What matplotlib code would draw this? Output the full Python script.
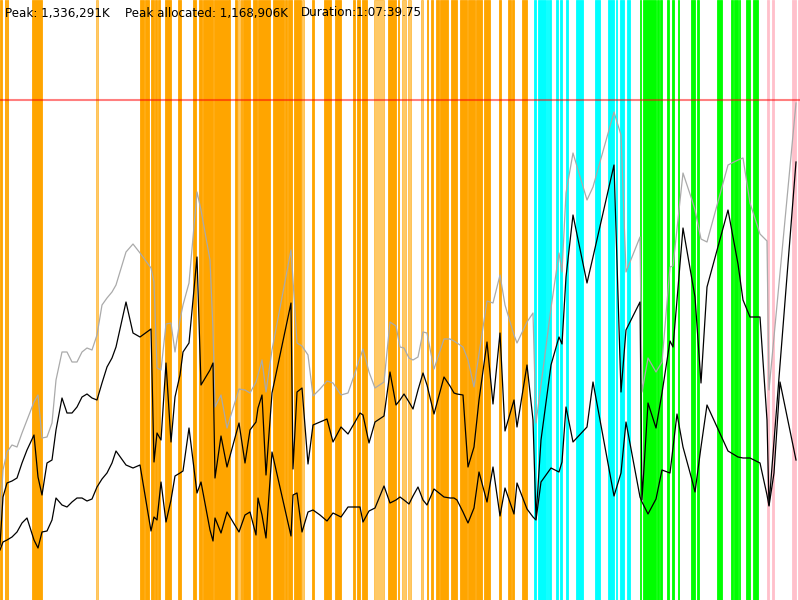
import matplotlib
matplotlib.use('Agg')
import matplotlib.pyplot as plt

# run summary
peak_k = 1336291
peak_alloc_k = 1168906
duration = '1:07:39.75'
heap_limit_mb = 1000

# sample times (s) and memory (MB)
t = [0, 15, 35, 60, 85, 110, 135, 170, 190, 210, 235, 260, 280, 310, 335, 360, 385, 410, 435, 460,
     485, 510, 535, 560, 580, 630, 665, 700, 755, 770, 785, 805, 830, 855, 875, 900, 915, 945, 985, 1005,
     1050, 1065, 1075, 1105, 1135, 1195, 1225, 1250, 1280, 1290, 1310, 1330, 1360, 1455, 1465, 1485, 1510, 1540, 1565, 1600,
     1635, 1665, 1705, 1740, 1775, 1800, 1815, 1845, 1875, 1920, 1950, 1980, 2000, 2020, 2045, 2065, 2090, 2115, 2135, 2170,
     2220, 2250, 2270, 2285, 2315, 2340, 2370, 2395, 2435, 2465, 2500, 2525, 2570, 2585, 2635, 2665, 2680, 2705, 2755, 2795,
     2810, 2830, 2865, 2935, 2965, 3070, 3105, 3130, 3200, 3210, 3240, 3280, 3310, 3350, 3365, 3385, 3415, 3460, 3475, 3505,
     3535, 3640, 3690, 3715, 3750, 3800, 3835, 3845, 3870, 3900, 3980]
heap_size = [160, 260, 296, 310, 306, 334, 360, 396, 410, 324, 326, 354, 440, 496, 496, 476, 476, 496, 504, 500,
             530, 590, 604, 616, 630, 696, 712, 694, 664, 636, 464, 460, 552, 554, 496, 560, 590, 634, 816, 780,
             680, 540, 386, 410, 344, 422, 420, 414, 436, 450, 480, 416, 500, 700, 640, 514, 508, 490, 408, 422,
             438, 434, 410, 414, 454, 484, 502, 456, 424, 436, 556, 548, 506, 504, 484, 480, 486, 536, 534, 462,
             522, 522, 518, 514, 506, 480, 426, 492, 598, 594, 650, 590, 530, 514, 556, 574, 354, 430, 584, 694,
             656, 814, 894, 800, 826, 976, 930, 656, 726, 416, 484, 456, 476, 666, 668, 742, 854, 800, 780, 722,
             716, 870, 880, 884, 794, 732, 718, 420, 526, 654, 994]
used_before = [110, 206, 234, 238, 244, 274, 300, 330, 246, 210, 274, 280, 340, 404, 374, 374, 386, 406, 412, 404,
               400, 434, 466, 484, 506, 596, 534, 526, 542, 276, 334, 320, 474, 316, 406, 450, 496, 514, 686, 430,
               460, 474, 244, 328, 266, 354, 274, 340, 356, 384, 410, 250, 414, 594, 262, 416, 424, 272, 350, 356,
               362, 316, 346, 332, 356, 374, 370, 314, 356, 368, 456, 390, 400, 412, 396, 382, 420, 454, 430, 372,
               446, 428, 414, 412, 410, 266, 306, 400, 516, 392, 534, 338, 400, 346, 470, 360, 164, 320, 470, 526,
               512, 646, 770, 634, 686, 870, 416, 540, 596, 200, 394, 344, 414, 518, 506, 600, 744, 640, 606, 434,
               626, 780, 672, 600, 566, 566, 360, 190, 316, 470, 876]
used_after = [100, 116, 120, 126, 136, 154, 164, 120, 104, 136, 138, 160, 204, 190, 186, 196, 204, 204, 198, 202,
              226, 242, 254, 274, 298, 270, 264, 270, 138, 166, 160, 236, 156, 200, 248, 254, 258, 344, 214, 236,
              140, 118, 164, 134, 176, 136, 170, 176, 130, 204, 170, 124, 296, 128, 210, 214, 136, 176, 180, 170,
              158, 174, 166, 186, 186, 186, 156, 178, 184, 228, 194, 200, 206, 200, 192, 208, 226, 200, 190, 222,
              206, 204, 204, 200, 176, 154, 184, 256, 196, 266, 168, 224, 172, 234, 182, 166, 160, 236, 264, 256,
              276, 386, 316, 346, 436, 208, 254, 356, 206, 196, 172, 202, 260, 254, 304, 372, 306, 240, 216, 306,
              390, 298, 286, 284, 284, 274, 210, 188, 254, 436, 280]

# collections: (start s, length s)
young_gc = [(0, 10), (25, 5), (35, 5), (160, 50), (700, 20), (725, 20), (755, 15), (775, 10), (788, 12), (825, 30),
            (890, 15), (965, 15), (995, 15), (1015, 50), (1070, 75), (1145, 5), (1175, 10), (1205, 5), (1215, 35),
            (1265, 20), (1290, 60), (1365, 55), (1425, 10), (1440, 20), (1470, 35), (1560, 10), (1620, 35), (1675, 30),
            (1765, 10), (1785, 15), (1810, 25), (1940, 40), (1990, 5), (2135, 5), (2155, 10), (2180, 15), (2200, 40),
            (2255, 30), (2300, 35), (2340, 35), (2380, 30), (2420, 30), (2495, 10), (2540, 15), (2560, 10), (2610, 25)]
young_gc_short = [(480, 10), (1190, 10), (1510, 10), (1870, 50), (2010, 20), (2040, 15), (2105, 10)]
mixed_gc = [(2670, 10), (2690, 40), (2735, 5), (2745, 10), (2780, 10), (2800, 10), (2830, 10), (2880, 35),
            (2975, 25), (3040, 30), (3080, 5), (3100, 20), (3135, 15)]
remark = [(3200, 5), (3215, 65), (3283, 12), (3300, 10), (3335, 10), (3360, 10), (3390, 5), (3455, 20), (3485, 10),
          (3585, 25), (3655, 10), (3670, 20), (3695, 5), (3730, 20), (3765, 25)]
full_gc = [(3835, 10), (3860, 10), (3960, 20), (3990, 10)]

fig = plt.figure(figsize=(8, 6), dpi=100)
ax = fig.add_axes([0, 0, 1, 1])
ax.set_xlim(0, 4000)
ax.set_ylim(0, 1200)
ax.axis('off')

for events, col, a in [(young_gc, '#FFA500', 1), (young_gc_short, '#FFA500', 0.6),
                       (mixed_gc, '#00FFFF', 1), (remark, '#00FF00', 1), (full_gc, '#FFC0CB', 1)]:
    for start, length in events:
        ax.axvspan(start, start + length, facecolor=col, edgecolor=col, alpha=a, lw=0.6)

ax.axhline(heap_limit_mb, color='red', alpha=0.5, lw=1.5)

ax.plot(t, heap_size, color='#AAAAAA', lw=0.9)
ax.plot(t, used_before, color='black', lw=0.9)
ax.plot(t, used_after, color='black', lw=0.9)

ty = 1 - 13 / 600
fig.text(5 / 800, ty, 'Peak: {:,}K'.format(peak_k), fontsize=8.6, va='center')
fig.text(125 / 800, ty, 'Peak allocated: {:,}K'.format(peak_alloc_k), fontsize=8.6, va='center')
fig.text(301 / 800, ty, 'Duration:' + duration, fontsize=8.6, va='center')

fig.savefig('out.png', dpi=100)
